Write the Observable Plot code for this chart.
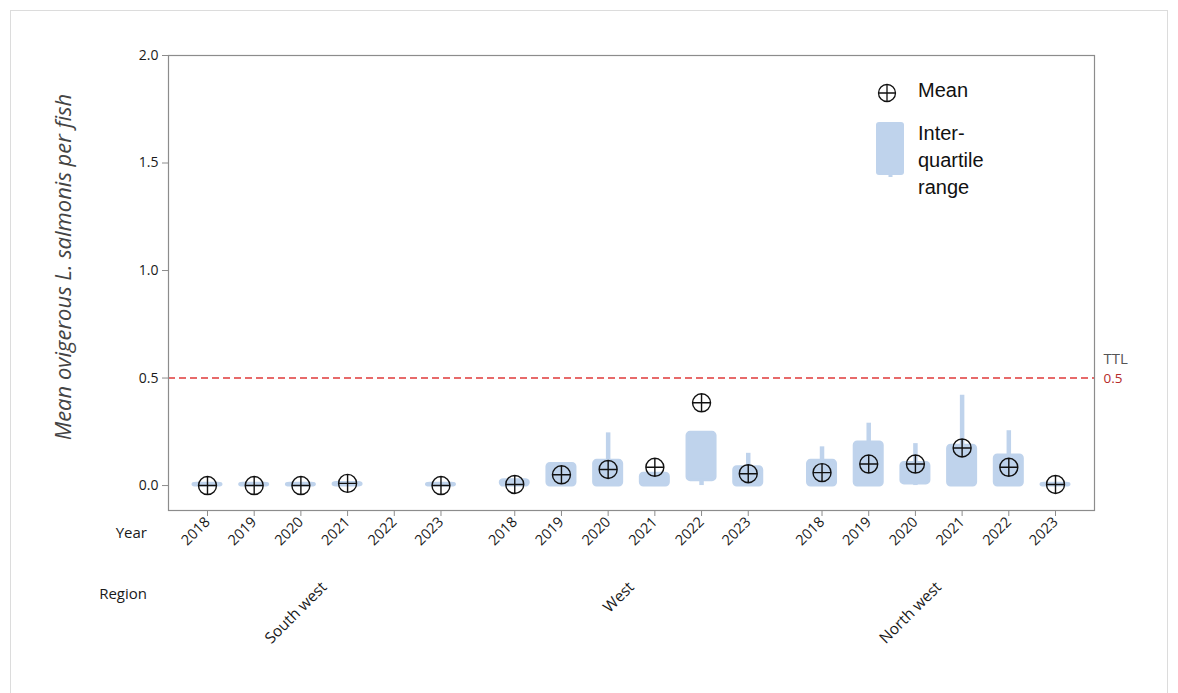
<!DOCTYPE html>
<html>
<head>
<meta charset="utf-8">
<script src="https://cdn.jsdelivr.net/npm/d3@7"></script>
<script src="https://cdn.jsdelivr.net/npm/@observablehq/plot@0.6"></script>
<style>
  body { margin: 0; background: #fff; }
  #wrap { position: relative; width: 1178px; height: 693px; overflow: hidden; }
  #wrap svg { position: absolute; left: 0; top: 0; }
  .border { position: absolute; left: 10px; top: 10px; width: 1158px; height: 690px; border: 1px solid #dcdcdc; box-sizing: border-box; }
  .ylab { position: absolute; left: 62px; top: 267px; transform: translate(-50%, -50%) rotate(-90deg);
          font: italic 22px "Open Sans", sans-serif; color: #444; white-space: nowrap; }
  .rowlab { position: absolute; right: 1031px; font: 15px "Open Sans", sans-serif; color: #1a1a1a; text-align: right; }
  .legend { position: absolute; left: 872px; top: 78px; font: 20px "Liberation Sans", Arial, sans-serif; color: #111; }
  .legend .item { position: absolute; white-space: nowrap; }
</style>
</head>
<body>
<div id="wrap">
  <div class="border"></div>
</div>
<script>
// Regions and survey years along the bottom axis
const regions = ["South west", "West", "North west"];
const years = [2018, 2019, 2020, 2021, 2022, 2023];

// Mean ovigerous L. salmonis per fish (null = no survey)
const meanSouthWest = [0, 0, 0, 0.01, null, 0];
const meanWest = [0.005, 0.05, 0.075, 0.085, 0.385, 0.055];
const meanNorthWest = [0.06, 0.1, 0.1, 0.175, 0.085, 0.005];

// Interquartile range (lower and upper quartiles)
const q1SouthWest = [0, 0, 0, 0, null, 0];
const q3SouthWest = [0.008, 0.008, 0.008, 0.012, null, 0.008];
const q1West = [0, 0, 0, 0, 0.025, 0];
const q3West = [0.025, 0.1, 0.115, 0.055, 0.245, 0.085];
const q1NorthWest = [0, 0, 0.01, 0, 0, 0];
const q3NorthWest = [0.115, 0.2, 0.105, 0.185, 0.14, 0.008];

// Extent of the thin stem beyond the box
const lowSouthWest = [0, 0, 0, 0, null, 0];
const highSouthWest = [0.008, 0.008, 0.008, 0.012, null, 0.008];
const lowWest = [0, 0, 0, 0, 0, 0];
const highWest = [0.025, 0.1, 0.245, 0.055, 0.245, 0.15];
const lowNorthWest = [0, 0, 0, 0, 0, 0];
const highNorthWest = [0.18, 0.29, 0.195, 0.42, 0.255, 0.008];

// Trigger level
const ttl = 0.5;
const yTicks = [0, 0.5, 1, 1.5, 2];

const series = [
  {mean: meanSouthWest, q1: q1SouthWest, q3: q3SouthWest, low: lowSouthWest, high: highSouthWest},
  {mean: meanWest, q1: q1West, q3: q3West, low: lowWest, high: highWest},
  {mean: meanNorthWest, q1: q1NorthWest, q3: q3NorthWest, low: lowNorthWest, high: highNorthWest}
];

// Slot layout: one slot per year, wider gap between regions
const groupStride = 6.58;
const pos = (g, i) => g * groupStride + i;

const rows = [];
series.forEach((s, g) => years.forEach((year, i) => {
  rows.push({region: regions[g], year, x: pos(g, i), mean: s.mean[i], q1: s.q1[i], q3: s.q3[i], low: s.low[i], high: s.high[i]});
}));
const present = rows.filter(d => d.mean != null);

const tickPositions = rows.map(d => d.x);
const tickYear = new Map(rows.map(d => [d.x, String(d.year)]));
const regionCenters = regions.map((r, g) => pos(g, 2.5));
const regionName = new Map(regions.map((r, g) => [pos(g, 2.5), r]));

// Circle with a cross through it
const crossedCircle = {
  draw(ctx, size) {
    const r = Math.sqrt(size / Math.PI);
    ctx.moveTo(r, 0);
    ctx.arc(0, 0, r, 0, 2 * Math.PI);
    ctx.moveTo(-r, 0); ctx.lineTo(r, 0);
    ctx.moveTo(0, -r); ctx.lineTo(0, r);
  }
};

const boxColor = "#bfd3ec";
const halfBox = 0.3;

const chart = Plot.plot({
  width: 1178,
  height: 693,
  marginLeft: 168,
  marginRight: 84,
  marginTop: 55,
  marginBottom: 183,
  style: {fontFamily: "'Open Sans', sans-serif", color: "#1a1a1a", background: "transparent"},
  x: {type: "linear", domain: [-0.835, pos(2, 5) + 0.835]},
  y: {domain: [-0.116, 2.0]},
  marks: [
    Plot.ruleX(present, {x: "x", y1: "low", y2: "high", stroke: boxColor, strokeWidth: 4.5}),
    Plot.rect(present, {x1: d => d.x - halfBox, x2: d => d.x + halfBox, y1: "q1", y2: "q3",
      fill: boxColor, stroke: boxColor, strokeWidth: 3, strokeLinejoin: "round", rx: 3}),
    Plot.ruleY([ttl], {stroke: "#e03a3a", strokeWidth: 1.6, strokeDasharray: "7,4"}),
    Plot.dot(present, {x: "x", y: "mean", r: 9, symbol: crossedCircle, stroke: "#111", strokeWidth: 1.4, fill: "none"}),
    Plot.text([ttl], {y: d => d, frameAnchor: "right", dx: 9, dy: -19, text: () => "TTL", textAnchor: "start", fill: "#555", fontSize: 15}),
    Plot.text([ttl], {y: d => d, frameAnchor: "right", dx: 9, dy: 1, text: d => d.toFixed(1), textAnchor: "start", fill: "#b52a2a", fontSize: 13.5}),
    Plot.frame({stroke: "#8c8c8c", strokeWidth: 1.2}),
    Plot.axisY(yTicks, {tickFormat: d => d.toFixed(1), tickSize: 6, tickPadding: 4, fontSize: 14, label: null, stroke: "#8c8c8c"}),
    Plot.axisX(tickPositions, {tickFormat: d => tickYear.get(d), tickRotate: -45, tickSize: 6, tickPadding: 3, fontSize: 14.5, label: null, stroke: "#8c8c8c"}),
    Plot.axisX(regionCenters, {tickFormat: d => regionName.get(d), tickRotate: -45, tickSize: 0, tickPadding: 74, fontSize: 15.5, label: null})
  ]
});

const wrap = document.getElementById("wrap");
wrap.appendChild(chart);

// Axis row titles and y label
const ylab = document.createElement("div");
ylab.className = "ylab";
ylab.textContent = "Mean ovigerous L. salmonis per fish";
wrap.appendChild(ylab);

[["Year", 522], ["Region", 583]].forEach(([t, top]) => {
  const el = document.createElement("div");
  el.className = "rowlab";
  el.style.top = top + "px";
  el.textContent = t;
  wrap.appendChild(el);
});

// Legend
const legend = document.createElement("div");
legend.className = "legend";
legend.innerHTML = `
  <svg class="item" style="left:5px;top:5px" width="20" height="20" viewBox="-10 -10 20 20">
    <circle r="8.5" fill="none" stroke="#111" stroke-width="1.3"/>
    <path d="M-8.5,0H8.5M0,-8.5V8.5" stroke="#111" stroke-width="1.3"/>
  </svg>
  <div class="item" style="left:46px;top:1px">Mean</div>
  <svg class="item" style="left:2px;top:42px" width="34" height="60">
    <rect x="2" y="2" width="28" height="53" rx="3" fill="${boxColor}"/>
    <rect x="14.5" y="50" width="4" height="7" fill="${boxColor}"/>
  </svg>
  <div class="item" style="left:46px;top:42px;line-height:27px">Inter-<br>quartile<br>range</div>`;
wrap.appendChild(legend);
</script>
</body>
</html>
